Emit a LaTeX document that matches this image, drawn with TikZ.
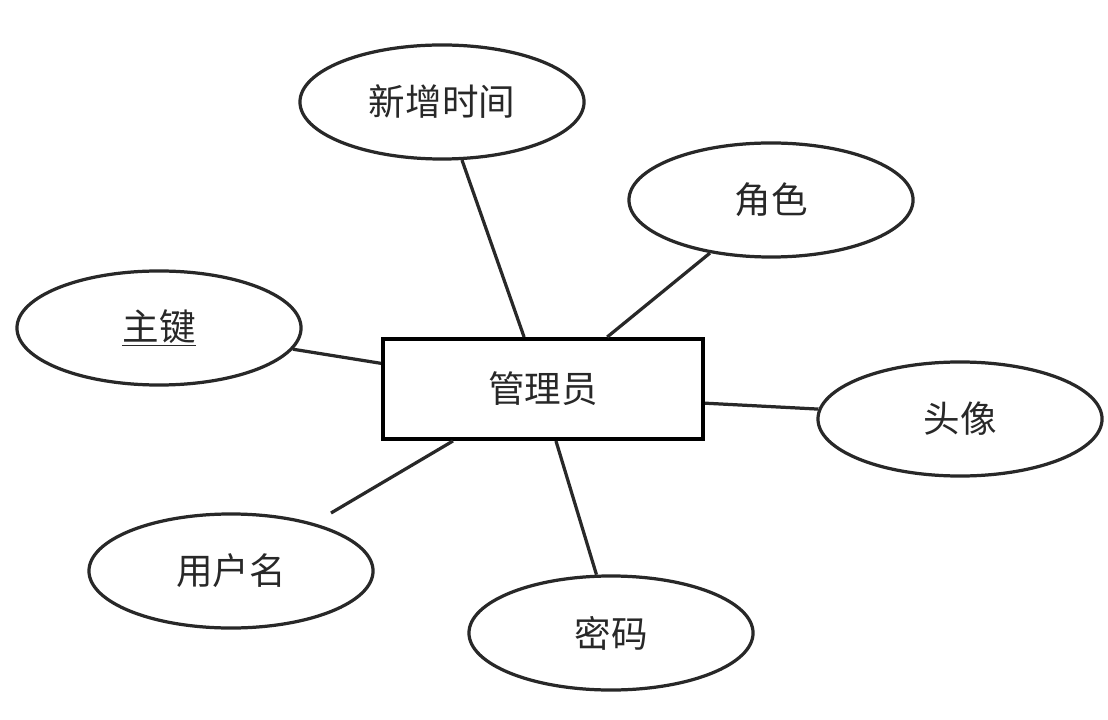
\documentclass[tikz,border=0pt]{standalone}
\usepackage{fontspec}
\newfontfamily\cjk{Noto Sans CJK SC}
\usepackage{tikz}
\usetikzlibrary{shapes.geometric}
\usepackage{xcolor}
\definecolor{ERline}{RGB}{40,40,40}

\begin{document}
\begin{tikzpicture}[x=0.025cm,y=-0.025cm, every node/.style={font=\cjk\fontsize{26}{30}\selectfont,text=ERline}, entity/.style={draw=black,line width=2.8pt,minimum width=8.0cm,minimum height=2.5cm}, attr/.style={ellipse,draw=ERline,line width=2.3pt,minimum width=7.1cm,minimum height=2.85cm}]
\useasboundingbox (0,0) rectangle (1108,720);
\node[entity] (admin) at (543,389) {管理员};
\node[attr] (addtime) at (442,102) {新增时间};
\node[attr] (role) at (771,200) {角色};
\node[attr] (pk) at (159,328) {\underline{主键}};
\node[attr] (avatar) at (960,419) {头像};
\node[attr] (uname) at (231,571) {用户名};
\node[attr] (pwd) at (611,633) {密码};
\coordinate (unameend) at (331,513);
\foreach \a/\x in {110/addtime.289, 39/role.221, 171/pk.351, 355/avatar.176, 210/unameend, 284/pwd.104}{\draw[line width=2.3pt,ERline] (admin.\a)--(\x);}
\end{tikzpicture}
\end{document}
